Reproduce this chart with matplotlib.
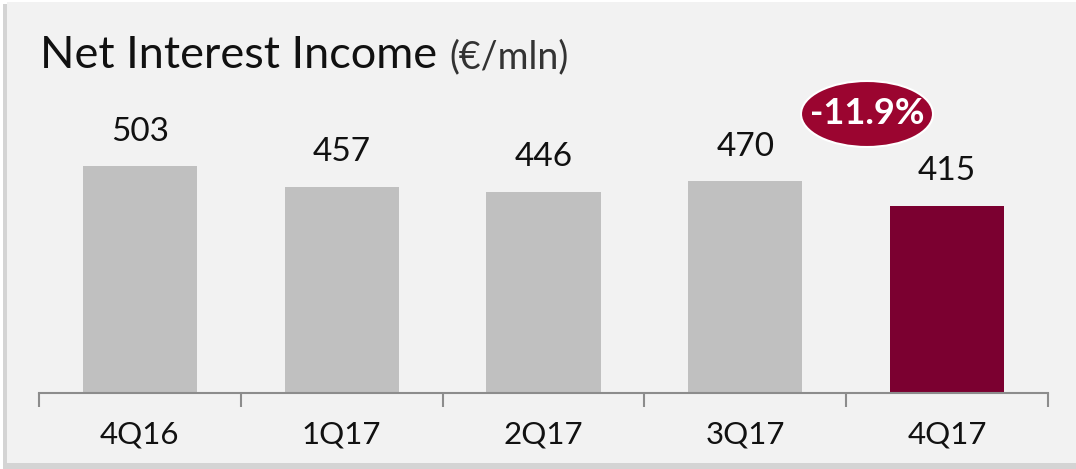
import matplotlib.pyplot as plt
from matplotlib.patches import Ellipse, Rectangle

quarters = ['4Q16', '1Q17', '2Q17', '3Q17', '4Q17']
nii = [503, 457, 446, 470, 415]
change_label = '-11.9%'

W, H = 1076, 469
fig = plt.figure(figsize=(W / 100, H / 100), dpi=100)
fig.patch.set_facecolor('white')

# panel with a soft shadow on the left / bottom
fig.patches.append(Rectangle((3 / W, 0), 1, 1 - 4 / H, transform=fig.transFigure,
                             facecolor='#d4d4d4', edgecolor='none', zorder=-10))
fig.patches.append(Rectangle((7 / W, 6 / H), 1, 1 - 8 / H, transform=fig.transFigure,
                             facecolor='#f2f2f2', edgecolor='none', zorder=-9))

base_px = 393
top_px = 60
ax = fig.add_axes([39 / W, (H - base_px) / H, (1048 - 39) / W, (base_px - top_px) / H])
ax.set_facecolor('none')
ymax = (base_px - top_px) / 0.451
ax.set_xlim(-0.5, len(quarters) - 0.5)
ax.set_ylim(0, ymax)

colors = ['#c0c0c0'] * (len(quarters) - 1) + ['#7b0030']
x = range(len(quarters))
ax.bar(x, nii, width=0.565, color=colors, zorder=2)

for i, v in enumerate(nii):
    ax.annotate(str(v), (i, v), xytext=(0, 14), textcoords='offset points',
                ha='center', va='bottom', fontsize=24, family='Lato', color='#111111')

for s in ['top', 'right', 'left']:
    ax.spines[s].set_visible(False)
ax.spines['bottom'].set_color('#8c8c8c')
ax.spines['bottom'].set_linewidth(1.5)
ax.set_yticks([])
ax.set_xticks([i - 0.5 for i in range(len(quarters) + 1)], minor=False)
ax.set_xticklabels([])
ax.tick_params(axis='x', length=10, width=1.5, color='#8c8c8c', direction='out')
ax.set_xticks(list(x), minor=True)
ax.set_xticklabels(quarters, minor=True, fontsize=22.5, family='Lato', color='#111111')
ax.tick_params(axis='x', which='minor', length=0, pad=20)

# title
fig.text(40 / W, 1 - 68 / H, 'Net Interest Income', fontsize=32.5, family='Lato',
         color='#111111', va='baseline')
fig.text(449 / W, 1 - 68 / H, '(€/mln)', fontsize=27, family='Lato',
         color='#333333', va='baseline')

# change badge
cx, cy = 867, 114
fig.patches.append(Ellipse((cx / W, 1 - cy / H), 132 / W, 66 / H, transform=fig.transFigure,
                           facecolor='#9b0530', edgecolor='white', linewidth=1.5, zorder=3))
fig.text(cx / W, 1 - cy / H, change_label, fontsize=26, family='Lato', fontweight='bold',
         color='white', ha='center', va='center', zorder=4)

fig.savefig('out.png', dpi=100, facecolor=fig.get_facecolor())
